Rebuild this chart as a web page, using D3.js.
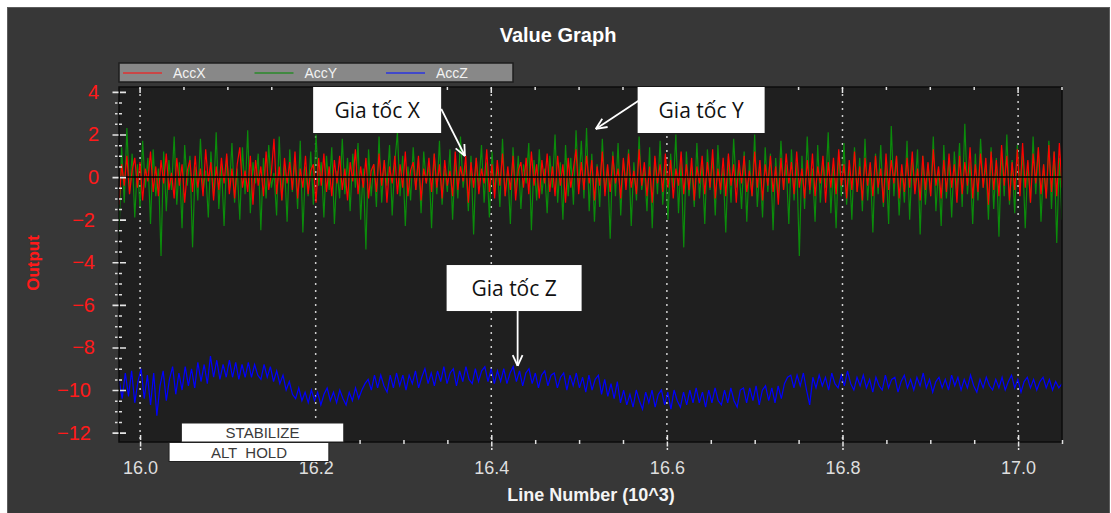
<!DOCTYPE html>
<html>
<head>
<meta charset="utf-8">
<script src="https://cdn.jsdelivr.net/npm/d3@7"></script>
<style>
  body { margin: 0; background: #ffffff; }
  svg { display: block; }
</style>
</head>
<body>
<div class="chart"></div>
<script>
// line number range covered by the log samples (x 10^3)
const lineRange = [15.976, 17.05];

const xTicks = [16.0, 16.2, 16.4, 16.6, 16.8, 17.0];
const yTicks = [-12, -10, -8, -6, -4, -2, 0, 2, 4];
const seriesNames = ['AccX', 'AccY', 'AccZ'];

const accX = [
  -1.3, 0.6, -0.4, 1.0, -0.8, 0.3, 0.9, -0.5, 0.7, -1.1, 0.4, -0.2, 1.2, -0.7, 0.5, -0.9, 0.8, -0.3, 1.1, -0.6,
  0.2, -1.0, 0.9, -0.4, 0.6, -1.2, 0.3, 0.8, -0.7, 1.0, -0.5, 0.4, -0.9, 1.3, -0.2, 0.7, -1.1, 0.5, -0.6, 0.9,
  -0.3, 1.1, -0.8, 0.4, -1.0, 0.6, 1.4, -0.5, 0.3, -0.7, 1.0, -1.3, 0.8, -0.4, 0.5, -0.9, 1.2, -0.6, 0.2, 1.8,
  -0.8, 0.5, -1.1, 0.9, -0.3, 0.7, -0.6, 1.2, -1.0, 0.4, -0.5, 1.0, -0.8, 0.3, 0.6, -1.2, 0.9, -0.4, 1.1, -0.7,
  0.5, -0.9, 0.8, -0.3, 1.0, -0.6, 0.4, -1.1, 0.7, -0.2, 1.3, -0.8, 0.5, -0.5, 0.9, -1.0, 0.3, 0.6, -0.7, 1.1,
  -0.4, 0.8, -1.2, 0.5, -0.3, 1.0, -0.8, 0.6, -0.5, 1.2, -0.9, 0.3, 0.7, -0.6, 1.0, -1.1, 0.4, -0.3, 0.9, -0.7,
  1.1, -0.5, 0.6, -1.0, 0.8, -0.4, 0.3, -0.9, 1.2, -0.6, 0.5, -0.2, 1.0, -1.2, 0.7, -0.5, 0.9, -0.8, 0.4, -0.3,
  1.3, -0.7, 0.6, -1.0, 0.8, -0.4, 1.1, -0.9, 0.5, -0.6, 1.0, -1.1, 0.3, 0.7, -0.5, 0.9, -0.8, 1.2, -0.4, 0.6,
  -1.0, 0.8, -0.3, 1.1, -0.7, 0.5, -0.9, 1.0, -0.4, 0.6, -1.2, 0.9, -0.5, 0.4, 1.3, -0.8, 0.7, -0.6, 1.0, -0.3,
  0.8, -1.1, 0.5, -0.4, 1.2, -0.9, 0.6, -0.7, 1.0, -0.3, 0.4, -1.0, 0.9, -0.6, 1.1, -0.5, 0.3, -0.8, 1.3, -0.4,
  0.7, -0.9, 0.5, -1.2, 1.0, -0.3, 0.6, -0.7, 1.1, -0.5, 0.8, -1.0, 0.4, -0.4, 1.2, -0.8, 0.6, -0.6, 0.9, -1.1,
  0.5, -0.3, 1.0, -0.8, 0.7, -0.5, 1.3, -1.0, 0.4, -0.6, 0.9, -0.9, 1.1, -0.4, 0.6, -1.2, 0.8, -0.3, 1.0, -0.7,
  0.3, -0.9, 1.2, -0.5, 0.8, -1.1, 0.6, -0.4, 1.0, -0.7, 0.5, -1.3, 0.9, -0.6, 1.1, -0.3, 0.7, -0.8, 1.2, -0.5,
  0.4, -1.0, 0.8, -0.6, 1.1, -0.9, 0.5, -0.3, 1.0, -1.2, 0.7, -0.5, 0.9, -0.8, 1.3, -0.4, 0.6, -1.0, 0.8, -0.6,
  1.2, -0.7, 0.5, -1.1, 0.9, -0.4, 0.7, -0.9, 1.0, -0.5, 0.4, -1.2, 1.1, -0.6, 0.8, -0.3, 1.0, -1.0, 0.6, -0.7,
  0.9, -0.5, 1.2, -0.8, 0.4, -1.1, 1.0, -0.6, 0.7, -0.9, 1.3, -0.4, 0.5, -1.0, 0.8, -0.7, 1.1, -0.5, 0.6, -1.2,
  1.0, -0.8, 0.7, -0.4, 1.4, -1.0, 0.6, -0.7, 1.1, -0.5, 0.9, -1.3, 1.2, -0.6, 0.8, -0.9, 1.5, -0.4, 1.0, -1.1,
  0.7, -0.6, 1.3, -0.9, 1.6, -0.5, 0.8, -1.2, 1.1, -0.3, 1.4, -0.8, 0.6, -1.0, 1.5, -0.7, 1.2, -0.9, 1.6, -0.5
];

const accY = [
  -2.7, 1.4, -1.2, 2.3, -0.8, 1.1, -1.9, 0.6, -1.4, 1.7, -0.5, 0.9, -2.2, 1.3, -0.9, 0.4, -3.7, 1.2, -1.6, 0.8,
  -0.6, 1.9, -1.3, 0.7, -2.4, 1.5, -0.4, 1.0, -3.3, 0.5, -1.1, 1.8, -0.7, 0.3, -1.9, 1.2, -0.9, 2.1, -1.5, 0.6,
  -2.3, 1.0, -0.6, 1.6, -1.2, 0.4, -2.0, 1.4, -0.8, 2.2, -1.7, 0.7, -0.3, 1.1, -2.5, 0.9, -1.0, 1.5, -0.5, 0.2,
  -1.8, 1.9, -1.1, 0.6, -2.1, 1.3, -0.7, 0.8, -1.5, 1.7, -2.6, 0.5, -0.9, 1.2, -1.3, 2.0, -0.4, 0.7, -1.9, 1.0,
  -0.6, 1.4, -2.2, 0.3, -1.0, 1.8, -0.8, 0.9, -1.6, 1.1, -0.5, 1.6, -2.0, 0.4, -3.4, 1.3, -0.9, 0.6, -1.4, 1.9,
  -1.2, 0.8, -0.4, 1.5, -1.8, 0.7, 2.1, -0.9, 1.0, -2.3, 0.5, -1.1, 1.4, -0.6, 0.9, -1.7, 1.2, -0.3, 0.6, -2.4,
  1.1, -0.8, 1.7, -1.3, 0.4, -0.7, 1.3, -2.0, 0.8, -1.0, 1.9, -0.5, 0.6, -1.6, 1.0, -2.7, 0.9, -0.4, 1.5, -1.2,
  0.7, -1.9, 1.2, -0.6, 0.5, -1.4, 1.8, -0.9, 0.3, -2.2, 1.4, -0.7, 1.0, -1.5, 0.6, -0.3, 1.6, -2.5, 0.8, -1.1,
  1.3, -0.8, 0.4, -1.7, 1.0, -0.5, 2.0, -1.2, 0.7, -2.0, 1.5, -0.9, 0.9, -1.3, 2.2, -0.6, 1.7, -1.0, 2.3, -1.6,
  1.1, -2.1, 0.6, -1.4, 1.8, -0.7, 0.5, -2.9, 1.2, -0.9, 1.6, -1.8, 0.8, -0.4, 1.3, -2.3, 0.7, -1.1, 1.9, -0.6,
  0.4, -1.6, 1.4, -2.4, 0.9, -0.8, 1.7, -1.3, 0.6, -2.0, 1.1, -0.5, 2.0, -1.7, 0.8, -3.3, 1.2, -0.9, 0.5, -1.4,
  1.6, -1.0, 0.7, -2.2, 1.3, -0.6, 0.9, -1.8, 1.5, -0.8, 0.4, -2.6, 1.0, -1.2, 1.8, -0.5, 0.6, -1.5, 1.2, -2.1,
  0.8, -0.9, 2.0, -1.4, 0.5, -1.9, 1.4, -0.7, 1.1, -2.5, 0.9, -1.0, 1.7, -0.6, 0.6, -2.2, 1.3, -1.1, 0.7, -3.7,
  1.0, -1.5, 1.9, -0.8, 0.4, -2.1, 1.5, -1.2, 0.8, -0.5, 2.1, -1.7, 0.6, -2.4, 1.2, -0.9, 1.6, -1.3, 0.5, -2.0,
  1.4, -0.7, 0.9, -1.6, 1.8, -1.1, 0.6, -2.6, 1.1, -0.8, 1.5, -1.4, 0.7, -2.2, 2.4, -0.9, 1.0, -1.8, 0.5, -1.2,
  1.7, -2.0, 0.8, -0.6, 1.3, -2.7, 1.0, -1.3, 0.6, -0.9, 1.9, -1.6, 0.4, -2.3, 1.5, -1.0, 0.9, -1.9, 1.2, -0.7,
  1.6, -1.4, 2.5, -0.8, 0.7, -2.2, 1.1, -1.1, 1.8, -0.5, 0.6, -2.0, 1.4, -1.5, 0.9, -2.8, 1.3, -0.9, 2.0, -1.3,
  0.8, -1.7, 1.5, -0.6, 1.1, -2.4, 0.7, -1.2, 1.9, -0.8, 1.4, -2.1, 0.6, -1.0, 1.7, -1.5, 1.2, -3.1, 0.9, -2.0
];

const accZ = [
  -9.5, -10.4, -9.2, -10.3, -9.1, -10.6, -9.6, -9.0, -10.4, -9.3, -10.7, -9.2, -11.2, -9.8, -9.1, -10.5, -9.5, -8.9, -10.2, -9.2,
  -10.0, -8.9, -9.8, -9.0, -9.9, -8.7, -9.6, -8.8, -9.7, -8.4, -9.4, -8.6, -9.5, -8.8, -9.4, -8.6, -9.4, -8.7, -9.5, -8.8,
  -9.4, -8.7, -9.4, -8.8, -9.3, -9.5, -8.8, -9.4, -8.9, -9.6, -9.1, -9.7, -9.3, -10.0, -9.6, -10.2, -10.4, -9.9, -10.5, -10.1,
  -10.6, -10.0, -10.5, -10.1, -10.7, -10.2, -9.9, -10.5, -10.1, -10.6, -10.0, -10.4, -10.7, -10.1, -10.5, -9.9, -10.4, -10.0, -9.7, -9.5,
  -10.0, -9.3, -9.9, -9.3, -9.8, -10.1, -9.3, -9.9, -9.2, -9.8, -9.3, -10.0, -9.3, -9.7, -9.1, -9.9, -9.4, -9.0, -9.7, -9.2,
  -9.8, -9.1, -9.6, -8.9, -9.7, -9.2, -9.0, -9.8, -9.1, -9.6, -8.9, -9.5, -9.7, -9.0, -9.6, -9.1, -8.9, -9.6, -9.0, -9.7,
  -9.1, -9.6, -9.0, -9.7, -9.2, -8.9, -9.6, -9.1, -9.8, -9.2, -9.0, -9.7, -9.2, -9.9, -9.3, -9.1, -9.8, -9.3, -9.2, -9.9,
  -9.4, -9.2, -10.0, -9.3, -9.8, -9.2, -9.9, -9.4, -10.1, -9.3, -10.0, -9.5, -9.3, -10.2, -9.5, -10.3, -9.7, -10.4, -9.6, -10.6,
  -10.0, -10.7, -10.2, -10.8, -10.0, -10.5, -10.9, -10.1, -10.6, -10.0, -10.8, -10.2, -10.0, -10.7, -10.1, -10.9, -10.0, -10.5, -10.8, -10.1,
  -10.7, -10.0, -10.6, -9.9, -10.6, -10.1, -10.8, -10.0, -10.6, -9.9, -10.5, -10.7, -10.0, -10.6, -9.9, -10.5, -10.8, -10.0, -9.9, -10.6,
  -9.9, -10.5, -9.8, -10.7, -10.0, -9.8, -10.5, -9.9, -10.6, -9.8, -10.4, -9.7, -9.4, -9.3, -9.9, -9.3, -9.8, -9.2, -10.0, -10.7,
  -9.4, -9.9, -9.3, -9.8, -9.4, -10.0, -9.2, -9.7, -9.9, -9.3, -9.8, -9.1, -9.7, -10.0, -9.4, -9.8, -9.3, -9.9, -9.5, -10.1,
  -9.4, -9.8, -10.0, -9.3, -9.9, -9.5, -9.4, -10.1, -9.6, -9.3, -9.9, -9.5, -10.0, -9.4, -9.8, -9.2, -9.9, -9.5, -10.1, -9.6,
  -9.4, -9.9, -9.5, -10.0, -9.3, -9.8, -9.4, -10.0, -9.5, -9.9, -9.3, -9.8, -10.1, -9.5, -9.9, -9.4, -9.8, -10.0, -9.5, -9.9,
  -9.4, -10.0, -9.6, -9.3, -9.9, -9.5, -10.1, -9.6, -9.4, -9.9, -9.5, -10.0, -9.6, -9.4, -9.9, -9.5, -10.0, -9.6, -9.9, -9.7
];

// callouts and flight mode tags, placed in data space
const notes = [
  {label: 'Gia tốc X', cx: 16.270, cy: 3.15, w: 128, from: [16.343, 3.2], to: [16.370, 0.99]},
  {label: 'Gia tốc Y', cx: 16.639, cy: 3.15, w: 127, from: [16.569, 3.62], to: [16.519, 2.26]},
  {label: 'Gia tốc Z', cx: 16.426, cy: -5.21, w: 135, from: [16.430, -6.29], to: [16.430, -8.87]}
];
const modes = [
  {label: 'STABILIZE', start: 16.047, end: 16.232, row: 0},
  {label: 'ALT  HOLD', start: 16.033, end: 16.215, row: 1}
];

const colors = {AccX: '#ff0000', AccY: '#0b8c0b', AccZ: '#0000ff'};
const legendColors = {AccX: '#e03030', AccY: '#2a8a2a', AccZ: '#2a35e0'};

const WIDTH = 1111, HEIGHT = 513;
const MARGINS = {top: 87, right: 49, bottom: 71, left: 119};
const plotW = WIDTH - MARGINS.left - MARGINS.right;
const plotH = HEIGHT - MARGINS.top - MARGINS.bottom;

let svg = d3.select('.chart')
  .append('svg')
  .attr('width', WIDTH)
  .attr('height', HEIGHT)
  .style('font-family', '"Liberation Sans", Arial, sans-serif');

let xRange = d3.scaleLinear()
  .domain(lineRange)
  .range([MARGINS.left, WIDTH - MARGINS.right]);
let yRange = d3.scaleLinear()
  .domain([-12.44, 4.23])
  .range([HEIGHT - MARGINS.bottom, MARGINS.top]);

// dark panel
svg.append('rect')
  .attr('x', 7.5).attr('y', 7.5)
  .attr('width', 1102).attr('height', 512)
  .attr('fill', '#373737')
  .attr('stroke', '#5c5c5c');

svg.append('text')
  .attr('x', 558).attr('y', 42)
  .attr('text-anchor', 'middle')
  .style('font-size', '20px')
  .style('font-weight', 'bold')
  .style('fill', '#ffffff')
  .text('Value Graph');

// legend strip
let legend = svg.append('g').attr('transform', 'translate(119,63)');
legend.append('rect')
  .attr('width', 394).attr('height', 19)
  .attr('fill', '#888888')
  .attr('stroke', '#1e1e1e')
  .attr('stroke-width', 1.5);
seriesNames.forEach(function (name, i) {
  let g = legend.append('g').attr('transform', 'translate(' + (4 + i * 131.5) + ',10)');
  g.append('line')
    .attr('x1', 0).attr('x2', 39)
    .attr('stroke', legendColors[name])
    .attr('stroke-width', 1.5);
  g.append('text')
    .attr('x', 50).attr('y', 5)
    .style('font-size', '14px')
    .style('fill', '#f2f2f2')
    .text(name);
});

// plot area
svg.append('rect')
  .attr('x', MARGINS.left).attr('y', MARGINS.top)
  .attr('width', plotW).attr('height', plotH)
  .attr('fill', '#1f1f1f');

svg.append('clipPath')
  .attr('id', 'plotclip')
  .append('rect')
  .attr('x', MARGINS.left).attr('y', MARGINS.top)
  .attr('width', plotW).attr('height', plotH);

// vertical dotted grid at major ticks
svg.append('g')
  .selectAll('line')
  .data(xTicks)
  .enter()
  .append('line')
  .attr('x1', function (d) { return xRange(d); })
  .attr('x2', function (d) { return xRange(d); })
  .attr('y1', MARGINS.top)
  .attr('y2', HEIGHT - MARGINS.bottom)
  .attr('stroke', '#cfcfcf')
  .attr('stroke-width', 1.5)
  .attr('stroke-dasharray', '2,5');

function lineAt(i, n) {
  return lineRange[0] + i * (lineRange[1] - lineRange[0]) / (n - 1);
}

let plot = svg.append('g').attr('clip-path', 'url(#plotclip)');
[['AccZ', accZ], ['AccY', accY], ['AccX', accX]].forEach(function (s) {
  let n = s[1].length;
  let lineFunction = d3.line()
    .x(function (d, i) { return xRange(lineAt(i, n)); })
    .y(function (d) { return yRange(d); })
    .curve(d3.curveLinear);
  plot.append('path')
    .attr('d', lineFunction(s[1]))
    .attr('fill', 'none')
    .attr('stroke', colors[s[0]])
    .attr('stroke-width', 1.2);
});

// zero line
plot.append('line')
  .attr('x1', MARGINS.left).attr('x2', WIDTH - MARGINS.right)
  .attr('y1', yRange(0)).attr('y2', yRange(0))
  .attr('stroke', '#000000')
  .attr('stroke-width', 1.5);

svg.append('rect')
  .attr('x', MARGINS.left).attr('y', MARGINS.top)
  .attr('width', plotW).attr('height', plotH)
  .attr('fill', 'none')
  .attr('stroke', '#0c0c0c')
  .attr('stroke-width', 1.5);

// x axis
let xMinor = d3.range(16.0, 17.051, 0.05).filter(function (v) {
  return Math.abs(v * 5 - Math.round(v * 5)) > 0.01;
});
let xAxisg = svg.append('g')
  .attr('class', 'xaxis')
  .attr('transform', 'translate(0,' + (HEIGHT - MARGINS.bottom) + ')')
  .call(d3.axisBottom(xRange).tickValues(xTicks).tickFormat(d3.format('.1f')).tickSize(8).tickPadding(11));
xAxisg.select('.domain').remove();
xAxisg.selectAll('line')
  .attr('y1', -7)
  .attr('stroke', '#e6e6e6')
  .attr('stroke-width', 1.5)
  .attr('stroke-dasharray', '5,1.5');
xAxisg.selectAll('text')
  .style('font-size', '18px')
  .style('fill', '#dedede')
  .style('font-family', '"Liberation Sans", Arial, sans-serif');

let xMinorg = svg.append('g')
  .attr('transform', 'translate(0,' + (HEIGHT - MARGINS.bottom) + ')')
  .call(d3.axisBottom(xRange).tickValues(xMinor).tickFormat('').tickSize(2));
xMinorg.select('.domain').remove();
xMinorg.selectAll('line')
  .attr('y1', -2)
  .attr('stroke', '#e0e0e0')
  .attr('stroke-width', 1.5);

// ticks on top edge
let topg = svg.append('g')
  .attr('transform', 'translate(0,' + MARGINS.top + ')');
topg.selectAll('.major')
  .data(xTicks)
  .enter()
  .append('line')
  .attr('x1', function (d) { return xRange(d); })
  .attr('x2', function (d) { return xRange(d); })
  .attr('y1', 0).attr('y2', 6)
  .attr('stroke', '#e6e6e6')
  .attr('stroke-width', 1.5);
topg.selectAll('.minor')
  .data(xMinor)
  .enter()
  .append('line')
  .attr('x1', function (d) { return xRange(d); })
  .attr('x2', function (d) { return xRange(d); })
  .attr('y1', 0).attr('y2', 3)
  .attr('stroke', '#e0e0e0')
  .attr('stroke-width', 1.5);

svg.append('text')
  .attr('x', 591).attr('y', 501)
  .attr('text-anchor', 'middle')
  .style('font-size', '18px')
  .style('font-weight', 'bold')
  .style('fill', '#f4f4f4')
  .text('Line Number (10^3)');

// y axis
let yMinor = d3.range(-12, 4.01, 0.5).filter(function (v) { return v % 2 !== 0; });
let yAxisg = svg.append('g')
  .attr('class', 'yaxis')
  .attr('transform', 'translate(' + MARGINS.left + ',0)')
  .call(d3.axisLeft(yRange).tickValues(yTicks).tickFormat(d3.format('d')).tickSize(7).tickPadding(13));
yAxisg.select('.domain').remove();
yAxisg.selectAll('line')
  .attr('x1', 7)
  .attr('stroke', '#e6e6e6')
  .attr('stroke-width', 1.6)
  .attr('stroke-dasharray', '6,1.5');
yAxisg.selectAll('text')
  .attr('dx', function (d) { return -(String(d).length - 1) * 4; })
  .style('font-size', '20px')
  .style('font-family', '"Liberation Sans Narrow", "Arial Narrow", sans-serif')
  .style('fill', '#ff1a1a');

let yMinorg = svg.append('g')
  .attr('transform', 'translate(' + MARGINS.left + ',0)')
  .call(d3.axisLeft(yRange).tickValues(yMinor).tickFormat('').tickSize(4));
yMinorg.select('.domain').remove();
yMinorg.selectAll('line')
  .attr('x1', 3)
  .attr('stroke', '#dcdcdc')
  .attr('stroke-width', 1.5)
  .attr('stroke-dasharray', '3,1.5');

svg.append('text')
  .attr('transform', 'translate(39,263) rotate(-90)')
  .attr('text-anchor', 'middle')
  .style('font-size', '17px')
  .style('font-weight', 'bold')
  .style('fill', '#ff1a1a')
  .text('Output');

// callouts
notes.forEach(function (d) {
  let cx = xRange(d.cx), cy = yRange(d.cy);
  svg.append('rect')
    .attr('x', cx - d.w / 2).attr('y', cy - 23)
    .attr('width', d.w).attr('height', 46)
    .attr('fill', '#ffffff');
  svg.append('text')
    .attr('x', cx).attr('y', cy + 8)
    .attr('text-anchor', 'middle')
    .style('font-family', '"Open Sans", "Noto Sans", sans-serif')
    .style('font-size', '21px')
    .style('fill', '#111111')
    .text(d.label);
  let x1 = xRange(d.from[0]), y1 = yRange(d.from[1]);
  let x2 = xRange(d.to[0]), y2 = yRange(d.to[1]);
  let ang = Math.atan2(y2 - y1, x2 - x1);
  svg.append('line')
    .attr('x1', x1).attr('y1', y1).attr('x2', x2).attr('y2', y2)
    .attr('stroke', '#ffffff').attr('stroke-width', 1.8);
  [-0.42, 0.42].forEach(function (a) {
    svg.append('line')
      .attr('x1', x2).attr('y1', y2)
      .attr('x2', x2 - 12 * Math.cos(ang + a))
      .attr('y2', y2 - 12 * Math.sin(ang + a))
      .attr('stroke', '#ffffff').attr('stroke-width', 1.8);
  });
});

// flight mode tags
modes.forEach(function (d) {
  let top = HEIGHT - MARGINS.bottom - 19 + d.row * 19.5;
  let x0 = xRange(d.start), x1 = xRange(d.end);
  svg.append('rect')
    .attr('x', x0).attr('y', top)
    .attr('width', x1 - x0).attr('height', 19)
    .attr('fill', '#ffffff')
    .attr('stroke', '#222222')
    .attr('stroke-width', 1);
  svg.append('text')
    .attr('x', (x0 + x1) / 2).attr('y', top + 15)
    .attr('text-anchor', 'middle')
    .style('font-size', '15px')
    .style('fill', '#3a3a3a')
    .style('white-space', 'pre')
    .text(d.label);
});
</script>
</body>
</html>
